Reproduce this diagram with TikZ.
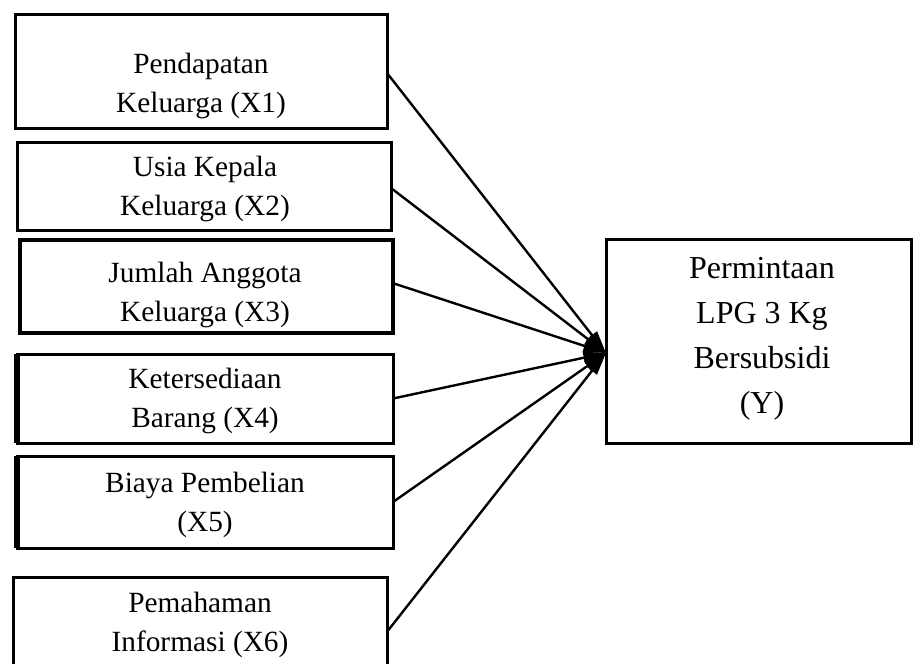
\documentclass[tikz,border=0pt]{standalone}
\usepackage{fontspec}
\setmainfont{Liberation Serif}
\usetikzlibrary{arrows.meta}
\begin{document}
\begin{tikzpicture}[x=0.75pt,y=-0.75pt,
  box/.style={draw,line width=2.25pt,rectangle,inner sep=0pt,outer sep=0pt},
  openbox/.style={rectangle,inner sep=0pt,outer sep=0pt},
  ltxt/.style={align=center,font=\fontsize{22}{29.25}\selectfont,inner sep=0pt},
  rtxt/.style={align=center,font=\fontsize{24}{33.75}\selectfont,inner sep=0pt},
  conn/.style={line width=1.8pt,-{Triangle[length=17pt,width=9pt]}}]
\useasboundingbox (0,0) rectangle (913,664);
% boxes
\node[box,minimum width=279pt,minimum height=85.5pt] (b1) at (201,71) {};
\node[box,minimum width=280.5pt,minimum height=66pt] (b2) at (204,186) {};
\node[box,line width=3pt,minimum width=279.75pt,minimum height=69.75pt] (b3) at (206.5,286.5) {};
\node[box,minimum width=282pt,minimum height=66.75pt] (b4) at (205,398.5) {};
\node[box,minimum width=282pt,minimum height=69pt] (b5) at (205,502) {};
\node[openbox,minimum width=280.5pt,minimum height=65.25pt] (b6) at (200,620.5) {};
\draw[line width=2.25pt] (b6.south west) -- (b6.north west) -- (b6.north east) -- (b6.south east);
\draw[line width=4.5pt] (b4.south west) -- (b4.north west);
\draw[line width=4.5pt] (b5.south west) -- (b5.north west);
\node[box,minimum width=228.75pt,minimum height=153pt] (bY) at (758.5,341) {};
% texts
\node[ltxt] (t1) at (201,85.5) {Pendapatan\\Keluarga (X1)};
\node[ltxt] (t2) at (205,189) {Usia Kepala\\Keluarga (X2)};
\node[ltxt] (t3) at (205,295) {Jumlah Anggota\\Keluarga (X3)};
\node[ltxt] (t4) at (205,401) {Ketersediaan\\Barang (X4)};
\node[ltxt] (t5) at (205,505) {Biaya Pembelian\\(X5)};
\node[ltxt] (t6) at (200,625) {Pemahaman\\Informasi (X6)};
\node[rtxt] (tY) at (762,339) {Permintaan\\LPG 3 Kg\\Bersubsidi\\(Y)};
% connectors
\coordinate (tip) at ([yshift=-9pt]bY.west);
\draw[conn] ([yshift=-1.5pt]b1.east) -- (tip);
\draw[conn] ([yshift=-1.5pt]b2.east) -- (tip);
\draw[conn] ([yshift=2.5pt]b3.east) -- (tip);
\draw[conn] (b4.east) -- (tip);
\draw[conn] (b5.east) -- (tip);
\draw[conn] ([yshift=-8.5pt]b6.east) -- (tip);
\end{tikzpicture}
\end{document}
